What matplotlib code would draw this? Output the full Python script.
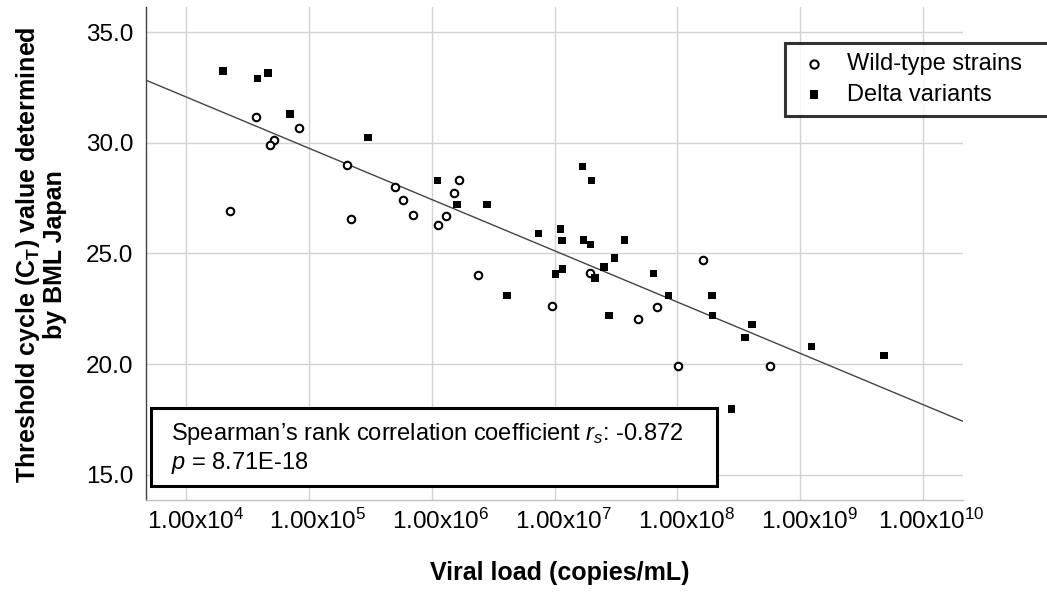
import numpy as np
import matplotlib
matplotlib.use("Agg")
import matplotlib.pyplot as plt
import matplotlib.transforms as mtransforms
from matplotlib.patches import Rectangle

plt.rcParams['font.family'] = ['Liberation Sans', 'DejaVu Sans']
plt.rcParams['mathtext.fontset'] = 'custom'
plt.rcParams['mathtext.rm'] = 'Liberation Sans'
plt.rcParams['mathtext.it'] = 'Liberation Sans:italic'
plt.rcParams['mathtext.bf'] = 'Liberation Sans:bold'

# ---- data (log10 viral load, copies/mL ; CT value) ----
wild_log10_load = [4.568, 4.921, 4.712, 4.685, 5.312, 5.703, 5.763, 5.850, 6.052, 4.359,
                   5.342, 6.222, 6.178, 6.116, 6.376, 7.289, 6.977, 7.680, 7.838, 8.207,
                   8.003, 8.755]
wild_ct = [31.15, 30.68, 30.11, 29.88, 29.01, 28.00, 27.42, 26.76, 26.30, 26.93,
           26.58, 28.30, 27.71, 26.69, 24.05, 24.14, 22.62, 22.05, 22.58, 24.71,
           19.94, 19.90]

delta_log10_load = [4.299, 4.579, 4.663, 4.845, 5.478, 6.045, 6.205, 6.450, 7.226, 7.302,
                    6.868, 7.047, 7.058, 7.234, 7.294, 7.568, 7.487, 7.403, 7.063, 7.006,
                    7.327, 7.805, 6.613, 7.927, 8.283, 7.441, 8.285, 8.609, 8.549, 9.092,
                    9.684, 8.440]
delta_ct = [33.23, 32.91, 33.14, 31.31, 30.23, 28.30, 27.22, 27.22, 28.92, 28.30,
            25.91, 26.10, 25.59, 25.60, 25.41, 25.60, 24.80, 24.40, 24.29, 24.08,
            23.90, 24.10, 23.10, 23.10, 23.10, 22.20, 22.20, 21.79, 21.20, 20.80,
            20.39, 17.98]

fit_intercept = 41.32   # CT at log10(load) = 0
fit_slope = -2.314      # CT per log10 unit

x_tick_exponents = [4, 5, 6, 7, 8, 9, 10]
x_tick_labels = [r'1.00x10$^{%d}$' % e for e in x_tick_exponents]
y_ticks = [15.0, 20.0, 25.0, 30.0, 35.0]
y_tick_labels = ['15.0', '20.0', '25.0', '30.0', '35.0']

legend_labels = ['Wild-type strains', 'Delta variants']
stats_line1 = r'Spearman’s rank correlation coefficient $r_s$: -0.872'
stats_line2 = r'$p$ = 8.71E-18'
x_label = 'Viral load (copies/mL)'
y_label = 'Threshold cycle (C$_{\\mathbf{T}}$) value determined\nby BML Japan'

# ---- figure ----
fig = plt.figure(figsize=(10.47, 5.99), dpi=100)
ax = fig.add_axes([0.1392, 0.1653, 0.9195 - 0.1392, 0.9883 - 0.1653])

xlo, xhi = 10 ** 3.669, 10 ** 10.325
ax.set_xscale('log')
ax.set_xlim(xlo, xhi)
ax.set_ylim(13.87, 36.13)

ax.set_xticks([10.0 ** e for e in x_tick_exponents])
ax.set_xticklabels(x_tick_labels)
ax.xaxis.set_minor_locator(matplotlib.ticker.NullLocator())
ax.set_yticks(y_ticks)
ax.set_yticklabels(y_tick_labels)
ax.tick_params(axis='both', length=0, labelsize=17.5, colors='#000000')
ax.tick_params(axis='x', pad=6)
ax.tick_params(axis='y', pad=9)

# x tick labels sit slightly right of their gridlines in the reference
shift = mtransforms.ScaledTranslation(9 / 100, 0, fig.dpi_scale_trans)
for lab in ax.get_xticklabels():
    lab.set_transform(lab.get_transform() + shift)

ax.grid(True, color='#d3d3d3', linewidth=1.0)
ax.set_axisbelow(True)
for side in ['top', 'right']:
    ax.spines[side].set_visible(False)
ax.spines['left'].set_color('#404040')
ax.spines['left'].set_linewidth(1.0)
ax.spines['bottom'].set_color('#c0c0c0')
ax.spines['bottom'].set_linewidth(1.0)

# regression line
xs = np.array([xlo, xhi])
ax.plot(xs, fit_intercept + fit_slope * np.log10(xs), color='#444444', linewidth=1.0, zorder=2)

# points
ax.scatter(10.0 ** np.array(wild_log10_load), wild_ct, s=29, marker='o',
           facecolors='white', edgecolors='black', linewidths=1.5, zorder=3,
           label=legend_labels[0])
ax.scatter(10.0 ** np.array(delta_log10_load), delta_ct, s=30, marker='s',
           facecolors='black', edgecolors='none', zorder=3, label=legend_labels[1])

# legend (extends past the right edge, clipped by the canvas)
leg = ax.legend(loc='upper left', bbox_to_anchor=(0.7825, 0.9276, 0.34, 0.0),
                mode='expand', fontsize=17, frameon=True, fancybox=False,
                edgecolor='black', borderaxespad=0, handlelength=1.57,
                handletextpad=0.6, labelspacing=0.36, borderpad=0.45,
                scatterpoints=1, markerscale=1.1)
leg.get_frame().set_linewidth(2.2)
leg.set_zorder(10)

# stats box
rect = Rectangle((0.0061, 0.0284), 0.699 - 0.0061, 0.186 - 0.0284,
                 transform=ax.transAxes, facecolor='white', edgecolor='black',
                 linewidth=2.2, zorder=5)
ax.add_patch(rect)
ax.text(0.0306, 0.1333, stats_line1, transform=ax.transAxes, fontsize=17,
        va='center', ha='left', zorder=6)
ax.text(0.0306, 0.0744, stats_line2, transform=ax.transAxes, fontsize=17,
        va='center', ha='left', zorder=6)

# axis labels
fig.text(560 / 1047, 1 - 580 / 599, x_label, fontsize=18, fontweight='bold',
         ha='center', va='baseline')
fig.text(40.5 / 1047, 1 - 255 / 599, y_label, fontsize=18, fontweight='bold',
         rotation=90, ha='center', va='center', multialignment='center',
         linespacing=1.05)

fig.savefig('out.png', dpi=100)
